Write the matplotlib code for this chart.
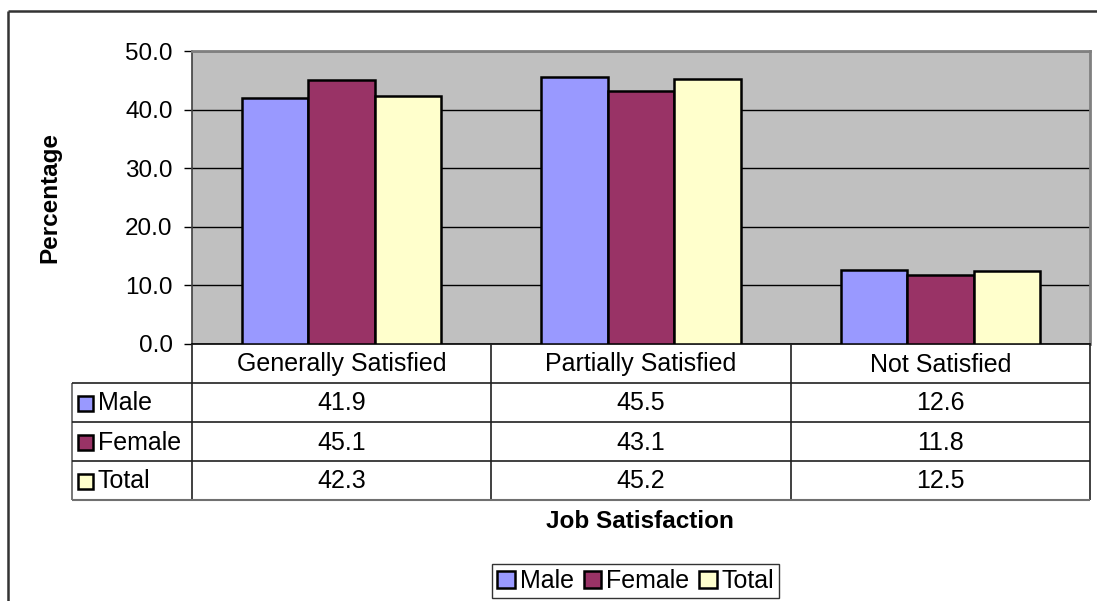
import matplotlib
matplotlib.use("Agg")
import matplotlib.pyplot as plt
from matplotlib.lines import Line2D
from matplotlib.patches import Rectangle
import numpy as np

plt.rcParams['font.family'] = ['Liberation Sans', 'DejaVu Sans']

categories = ["Generally Satisfied", "Partially Satisfied", "Not Satisfied"]
series_names = ["Male", "Female", "Total"]
male = [41.9, 45.5, 12.6]
female = [45.1, 43.1, 11.8]
total = [42.3, 45.2, 12.5]
colors = ["#9999FF", "#993366", "#FFFFCC"]
yticks = [0, 10, 20, 30, 40, 50]
ylabel = "Percentage"
xlabel = "Job Satisfaction"

W, H = 1097, 601
FS = 18
fig = plt.figure(figsize=(W / 100, H / 100), dpi=100)
fig.patch.set_facecolor("white")


def fx(x):
    return x / W


def fy(y):
    return 1 - y / H


def line(x0, y0, x1, y1, color="black", lw=1.0):
    fig.add_artist(Line2D([fx(x0), fx(x1)], [fy(y0), fy(y1)],
                          transform=fig.transFigure, color=color, lw=lw,
                          solid_capstyle="butt"))


# outer chart border (top and left visible)
line(8, 11, W, 11, color="#333333", lw=1.8)
line(8, 11, 8, H, color="#333333", lw=1.8)

# plot area
PL, PR, PT, PB = 192, 1090, 51, 344
ax = fig.add_axes([fx(PL), fy(PB), (PR - PL) / W, (PB - PT) / H])
ax.set_facecolor("#C0C0C0")
ax.set_xlim(-0.5, len(categories) - 0.5)
ax.set_ylim(0, 50)
ax.set_yticks(yticks)
ax.set_yticklabels([f"{v:.1f}" for v in yticks])
ax.set_xticks([])
ax.tick_params(axis="y", direction="out", length=6, width=1, pad=8,
               labelsize=17.5, colors="black")
ax.yaxis.grid(True, color="black", lw=1)
ax.set_axisbelow(True)
for side in ["top", "right"]:
    ax.spines[side].set_color("#808080")
    ax.spines[side].set_linewidth(2)
ax.spines["left"].set_color("#404040")
ax.spines["left"].set_linewidth(1.2)
ax.spines["bottom"].set_color("black")
ax.spines["bottom"].set_linewidth(1.2)

x = np.arange(len(categories))
w = 1 / 4.5
all_series = [male, female, total]
handles = []
for i, (vals, c, name) in enumerate(zip(all_series, colors, series_names)):
    b = ax.bar(x + (i - 1) * w, vals, width=w, color=c, edgecolor="black",
               linewidth=1.8, label=name, zorder=3)
    handles.append(b)

# y label
fig.text(fx(50), fy((PT + PB) / 2), ylabel, rotation=90, ha="center",
         va="center", fontsize=17.5, fontweight="bold")

# data table
col_x = [PL + (PR - PL) * k / len(categories) for k in range(len(categories) + 1)]
row_y = [344, 383, 422, 461, 500]
TL = 72
lc = "#202020"
for cx in col_x:
    line(cx, row_y[0], cx, row_y[-1], color=lc, lw=1.2)
line(TL, row_y[1], TL, row_y[-1], color="#606060", lw=1.2)
line(TL, row_y[1], PR, row_y[1], color=lc, lw=1.2)
for ry in row_y[2:-1]:
    line(TL, ry, PR, ry, color=lc, lw=1.2)
line(TL, row_y[-1], PR, row_y[-1], color="#707070", lw=1.5)

for k, cat in enumerate(categories):
    fig.text(fx((col_x[k] + col_x[k + 1]) / 2), fy((row_y[0] + row_y[1]) / 2 + 1),
             cat, ha="center", va="center", fontsize=FS)

for r, (vals, c, name) in enumerate(zip(all_series, colors, series_names)):
    yc = (row_y[r + 1] + row_y[r + 2]) / 2 + 1
    fig.add_artist(Rectangle((fx(78), fy(yc + 7)), 15 / W, 15 / H,
                             transform=fig.transFigure, facecolor=c,
                             edgecolor="black", lw=1.8))
    fig.text(fx(98), fy(yc), name, ha="left", va="center", fontsize=FS)
    for k, v in enumerate(vals):
        fig.text(fx((col_x[k] + col_x[k + 1]) / 2), fy(yc), f"{v:.1f}",
                 ha="center", va="center", fontsize=FS)

# x label
fig.text(fx(640), fy(521), xlabel, ha="center", va="center",
         fontsize=17.5, fontweight="bold")

# legend
leg = fig.legend(handles=handles, labels=series_names, loc="upper left",
                 bbox_to_anchor=(fx(492), fy(564)), ncol=3, fontsize=FS,
                 frameon=True, fancybox=False, edgecolor="black",
                 handlelength=0.7, handleheight=0.7, handletextpad=0.2,
                 columnspacing=0.4, borderpad=0.2, borderaxespad=0)
leg.get_frame().set_linewidth(1.0)

fig.savefig("out.png", dpi=100)
